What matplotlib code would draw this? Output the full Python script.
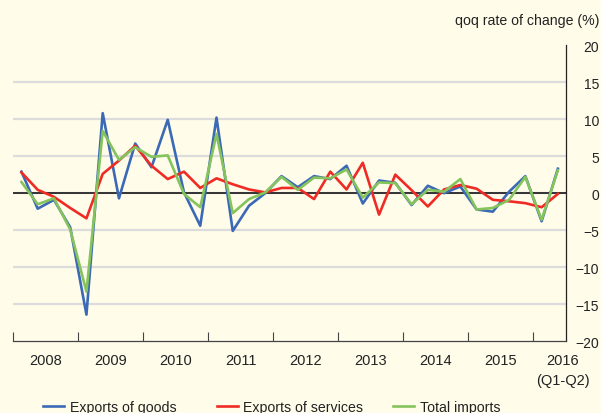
import numpy as np
import matplotlib.pyplot as plt

# quarterly data, 2008Q1 .. 2016Q2
years = ["2008", "2009", "2010", "2011", "2012", "2013", "2014", "2015",
         "2016\n(Q1-Q2)"]
goods = [2.9, -2.1, -0.9, -4.6, -16.4, 10.8, -0.7, 6.7,
         3.5, 9.9, 0.1, -4.4, 10.2, -5.1, -1.7, 0.0,
         2.3, 0.8, 2.3, 1.9, 3.7, -1.4, 1.7, 1.4,
         -1.6, 1.0, 0.0, 0.9, -2.2, -2.5, 0.2, 2.3,
         -3.8, 3.3]
services = [2.8, 0.45, -0.5, -2.0, -3.4, 2.6, 4.4, 6.4,
            3.7, 1.9, 2.9, 0.7, 2.0, 1.2, 0.5, 0.1,
            0.7, 0.7, -0.8, 2.9, 0.5, 4.1, -2.9, 2.5,
            0.4, -1.8, 0.5, 1.1, 0.6, -0.9, -1.1, -1.35,
            -1.9, -0.1]
imports = [1.5, -1.5, -0.7, -4.9, -13.3, 8.4, 4.5, 6.2,
           4.9, 5.1, -0.1, -1.9, 8.0, -2.7, -0.8, 0.1,
           2.2, 0.45, 2.1, 2.0, 3.2, -0.6, 1.45, 1.35,
           -1.5, 0.45, 0.2, 1.9, -2.2, -2.0, -0.9, 2.2,
           -3.6, 3.1]

BG = "#fffcea"
plt.rcParams['font.family'] = ['Liberation Sans', 'DejaVu Sans']

fig = plt.figure(figsize=(6.01, 4.14), dpi=100, facecolor=BG)
W, H = 601, 414
ax = fig.add_axes([13.3 / W, 1 - 342.3 / H, (566 - 13.3) / W, (342.3 - 46) / H])
ax.set_facecolor(BG)

q = np.arange(len(goods))
ax.plot(q, goods, color="#3b69b6", lw=1.9, label="Exports of goods", zorder=3)
ax.plot(q, services, color="#ee2b24", lw=1.9, label="Exports of services", zorder=3)
ax.plot(q, imports, color="#85c35c", lw=1.9, label="Total imports", zorder=3)
ax.axhline(0, color="#333333", lw=1.4, zorder=2)

ax.set_xlim(-0.5, 33.5)
ax.set_ylim(-20, 20)

# y axis on the right, labels right-aligned
ax.yaxis.tick_right()
ax.set_yticks(np.arange(-20, 21, 5))
ax.tick_params(axis="y", length=0, pad=24, labelsize=10, colors="#222222")
for lab in ax.get_yticklabels():
    lab.set_horizontalalignment("right")
ax.yaxis.grid(True, color="#dcdcdc", lw=1.6, zorder=1)
gl = ax.get_ygridlines()
gl[0].set_visible(False)
gl[-1].set_visible(False)

# year boundaries as ticks, year names between them
ax.set_xticks(np.arange(-0.5, 33, 4))
ax.set_xticklabels([])
ax.tick_params(axis="x", which="major", direction="in", length=6.5,
               width=0.8, color="#444444")
centers = list(np.arange(1.5, 32, 4)) + [33.3]
ax.set_xticks(centers, minor=True)
ax.set_xticklabels(years, minor=True)
ax.tick_params(axis="x", which="minor", length=0, pad=8.5, labelsize=10.5,
               colors="#222222")
ax.get_xticklabels(minor=True)[-1].set_linespacing(1.5)

for s in ["top", "left"]:
    ax.spines[s].set_visible(False)
ax.spines["right"].set_color("#222222")
ax.spines["right"].set_linewidth(0.9)
ax.spines["bottom"].set_color("#444444")
ax.spines["bottom"].set_linewidth(0.9)

fig.text(599 / W, 1 - 21 / H, "qoq rate of change (%)", ha="right",
         va="center", fontsize=10.2, color="#222222")

# legend entries placed along the bottom edge
lines = ax.get_lines()[:3]
for line, x0 in zip(lines, [42.7, 216.5, 392.7]):
    fig.legend([line], [line.get_label()], loc="center left",
               bbox_to_anchor=(x0 / W, 1 - 407.7 / H), frameon=False,
               borderpad=0, borderaxespad=0, handlelength=1.5,
               handletextpad=0.4, fontsize=10.2, labelcolor="#222222")

fig.savefig("out.png", dpi=100, facecolor=BG)
